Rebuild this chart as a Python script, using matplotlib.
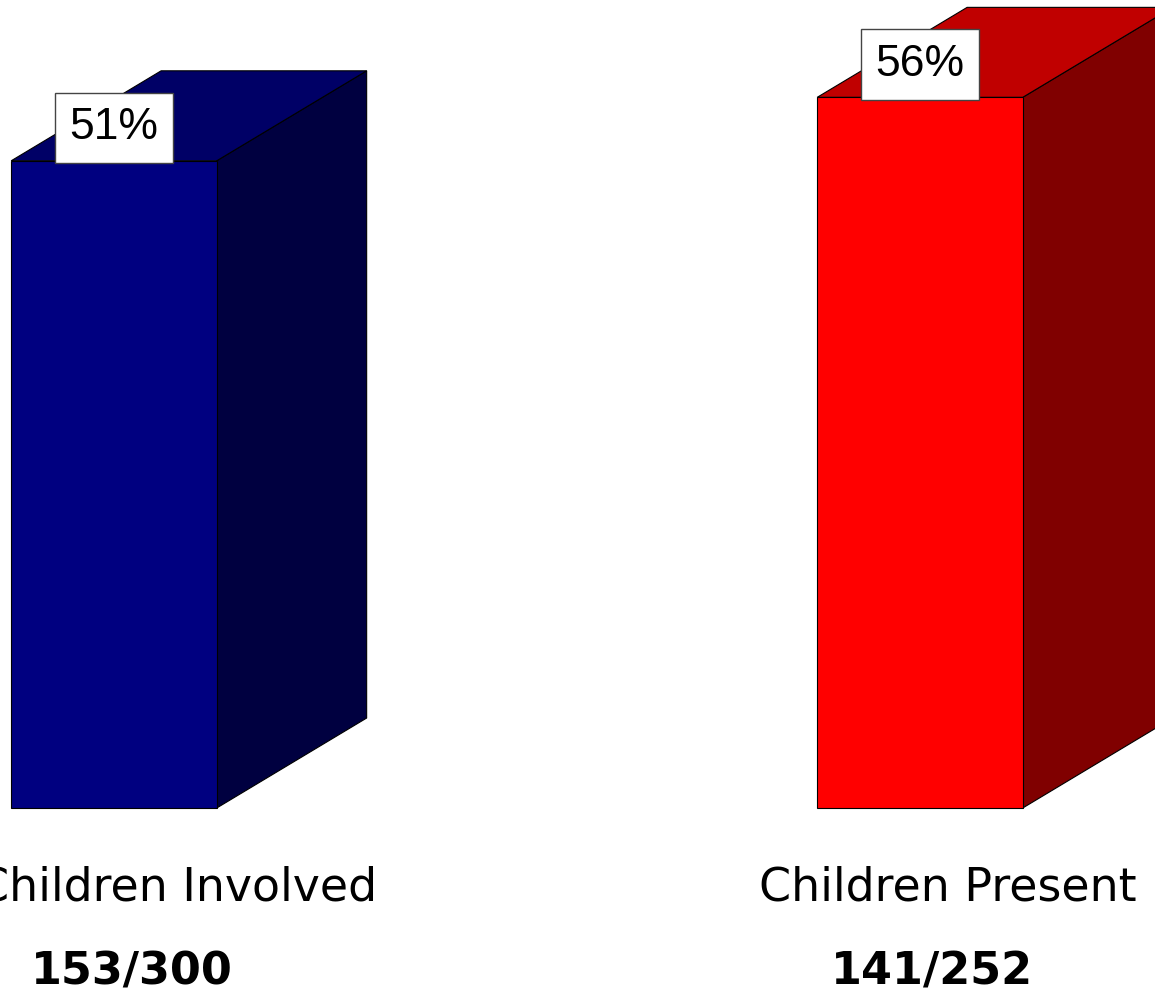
import matplotlib
matplotlib.use("Agg")
import matplotlib.pyplot as plt
from matplotlib.patches import Polygon

categories = ["Children Involved", "Children Present"]
values = [51, 56]
pct_labels = ["51%", "56%"]
fractions = ["153/300", "141/252"]

front_colors = ["#000080", "#FF0000"]
top_colors = ["#000066", "#C00000"]
side_colors = ["#000040", "#800000"]

W, H = 1155, 998
fig = plt.figure(figsize=(W / 100, H / 100), dpi=100)
ax = fig.add_axes([0, 0, 1, 1])
ax.set_xlim(-0.1414, 1.2916)
ax.set_ylim(-14.97, 63.67)
ax.axis("off")

width = 0.255
dx = 0.186
dy = 7.09

for i, v in enumerate(values):
    x0 = i - width / 2
    x1 = i + width / 2
    front = Polygon([(x0, 0), (x1, 0), (x1, v), (x0, v)], closed=True,
                    facecolor=front_colors[i], edgecolor="black", lw=0.8, zorder=3)
    side = Polygon([(x1, 0), (x1 + dx, dy), (x1 + dx, v + dy), (x1, v)], closed=True,
                   facecolor=side_colors[i], edgecolor="black", lw=0.8, zorder=2)
    top = Polygon([(x0, v), (x1, v), (x1 + dx, v + dy), (x0 + dx, v + dy)], closed=True,
                  facecolor=top_colors[i], edgecolor="black", lw=0.8, zorder=2)
    for p in (side, top, front):
        ax.add_patch(p)
    ax.text(i, v + 2.6, pct_labels[i], ha="center", va="center", fontsize=32,
            family="Liberation Sans", zorder=5,
            bbox=dict(boxstyle="square,pad=0.33", facecolor="white", edgecolor="#444444", lw=1))

cat_offsets = [0.078, 0.035]
frac_offsets = [0.022, 0.015]
for i, c in enumerate(categories):
    ax.text(i + cat_offsets[i], -6.3, c, ha="center", va="center", fontsize=33,
            family="DejaVu Sans", color="black")
    ax.text(i + frac_offsets[i], -12.9, fractions[i], ha="center", va="center", fontsize=32,
            family="DejaVu Sans", fontweight="bold", color="black")

fig.savefig("out.png", dpi=100)
